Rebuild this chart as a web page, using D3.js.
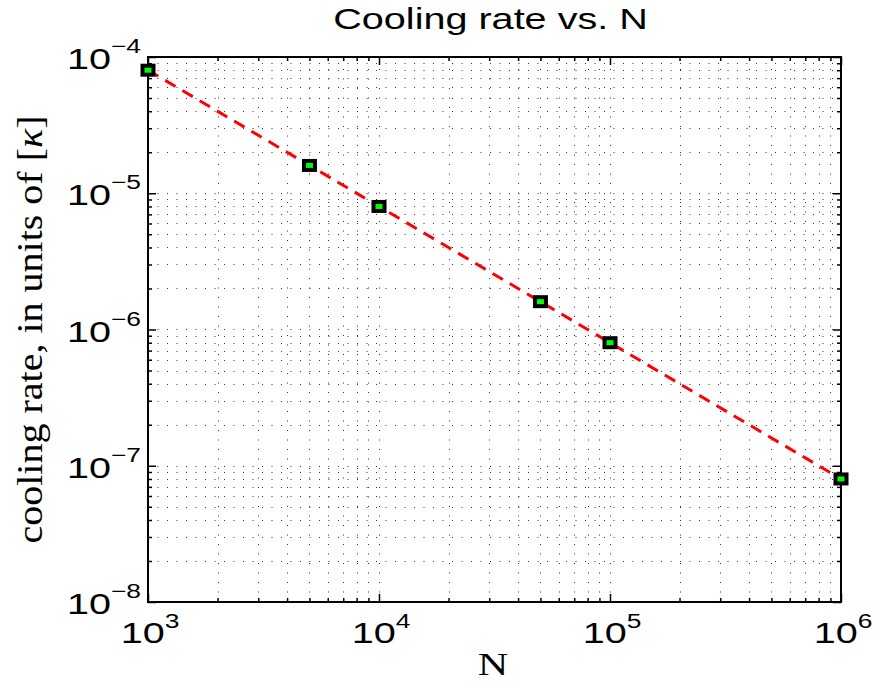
<!DOCTYPE html>
<html>
<head>
<meta charset="utf-8">
<script src="https://cdn.jsdelivr.net/npm/d3@7"></script>
<style>
  body { margin: 0; background: #fff; }
  svg { display: block; }
</style>
</head>
<body>
<svg width="876" height="684"></svg>
<script>
const nValues = [1e3, 5e3, 1e4, 5e4, 1e5, 1e6];
const coolingRates = [8e-5, 1.6e-5, 8e-6, 1.6e-6, 8e-7, 8e-8];
const fitN = [1e3, 1e6];
const fitRates = [8e-5, 8e-8];
const xTickExponents = [3, 4, 5, 6];
const yTickExponents = [-4, -5, -6, -7, -8];

const svg = d3.select("svg");
const margin = { top: 57, right: 35, bottom: 82, left: 148 };
const width = +svg.attr("width") - margin.left - margin.right;
const height = +svg.attr("height") - margin.top - margin.bottom;
const stretch = 1.32;

const g = svg.append("g")
  .attr("transform", `translate(${margin.left},${margin.top})`);

const x = d3.scaleLog().domain([1e3, 1e6]).range([0, width]);
const y = d3.scaleLog().domain([1e-8, 1e-4]).range([height, 0]);

// every 1..9 x 10^k between the domain ends
function logTicks(lo, hi) {
  const out = [];
  for (let e = lo; e < hi; e++) {
    for (let k = 1; k <= 9; k++) out.push(k * Math.pow(10, e));
  }
  out.push(Math.pow(10, hi));
  return out;
}
const xAll = logTicks(3, 6);
const yAll = logTicks(-8, -4);
const xMajor = xTickExponents.map(e => Math.pow(10, e));
const yMajor = yTickExponents.map(e => Math.pow(10, e));
const crisp = v => Math.round(v) + 0.5;

// dotted grid
g.append("g").selectAll("line")
  .data(xAll.slice(1, -1))
  .join("line")
  .attr("x1", d => crisp(x(d))).attr("x2", d => crisp(x(d)))
  .attr("y1", height).attr("y2", 0)
  .attr("stroke", "#333")
  .attr("stroke-width", 1)
  .attr("stroke-dasharray", "1,8.5");

g.append("g").selectAll("line")
  .data(yAll.slice(1, -1))
  .join("line")
  .attr("y1", d => crisp(y(d))).attr("y2", d => crisp(y(d)))
  .attr("x1", 0).attr("x2", width)
  .attr("stroke", "#333")
  .attr("stroke-width", 1)
  .attr("stroke-dasharray", "1,8.5");

// inward ticks on all four sides
function ticks(axis, vals, size, tr) {
  g.append("g")
    .attr("transform", tr)
    .call(axis.tickValues(vals).tickSize(size).tickFormat(""))
    .call(a => a.select(".domain").remove())
    .call(a => a.selectAll("line").attr("stroke", "#000").attr("stroke-width", 1.5));
}
const xMinor = xAll.filter(d => !xMajor.includes(d));
const yMinor = yAll.filter(d => !yMajor.some(m => Math.abs(m - d) / m < 1e-9));
ticks(d3.axisBottom(x), xMajor, -8, `translate(0,${height})`);
ticks(d3.axisBottom(x), xMinor, -4, `translate(0,${height})`);
ticks(d3.axisTop(x), xMajor, -8, "translate(0,0)");
ticks(d3.axisTop(x), xMinor, -4, "translate(0,0)");
ticks(d3.axisLeft(y), yMajor, -8, "translate(0,0)");
ticks(d3.axisLeft(y), yMinor, -4, "translate(0,0)");
ticks(d3.axisRight(y), yMajor, -8, `translate(${width},0)`);
ticks(d3.axisRight(y), yMinor, -4, `translate(${width},0)`);

g.append("rect")
  .attr("width", width).attr("height", height)
  .attr("fill", "none")
  .attr("stroke", "#000")
  .attr("stroke-width", 2);

// tick labels 10^k
const font = "'Liberation Sans', Arial, sans-serif";
xTickExponents.forEach(e => {
  const t = g.append("g")
    .attr("transform", `translate(${x(Math.pow(10, e)) + 2},${height + 41}) scale(${stretch},1)`)
    .append("text")
    .attr("text-anchor", "middle")
    .attr("font-family", font)
    .attr("font-size", 30)
    .attr("fill", "#000");
  t.append("tspan").text("10");
  t.append("tspan").attr("font-size", 20).attr("dy", -15).text(String(e));
});

yTickExponents.forEach(e => {
  const t = g.append("g")
    .attr("transform", `translate(-7,${y(Math.pow(10, e)) + 12}) scale(${stretch},1)`)
    .append("text")
    .attr("text-anchor", "end")
    .attr("font-family", font)
    .attr("font-size", 30)
    .attr("fill", "#000");
  t.append("tspan").text("10");
  t.append("tspan").attr("font-size", 20).attr("dy", -16).text("\u2212" + Math.abs(e));
});

// fit line
const line = d3.line()
  .x(d => x(d[0]))
  .y(d => y(d[1]));

g.append("path")
  .datum(d3.zip(fitN, fitRates))
  .attr("fill", "none")
  .attr("stroke", "#ff0000")
  .attr("stroke-width", 3)
  .attr("stroke-dasharray", "12,8")
  .attr("d", line);

// markers
g.selectAll("rect.pt")
  .data(d3.zip(nValues, coolingRates))
  .join("rect")
  .attr("class", "pt")
  .attr("x", d => x(d[0]) - 5.5)
  .attr("y", d => y(d[1]) - 4.5)
  .attr("width", 11)
  .attr("height", 9)
  .attr("fill", "#00ff00")
  .attr("stroke", "#000")
  .attr("stroke-width", 4);

// title
svg.append("g")
  .attr("transform", `translate(${margin.left + width / 2 - 4},29) scale(${stretch},1)`)
  .append("text")
  .attr("text-anchor", "middle")
  .attr("font-family", font)
  .attr("font-size", 30)
  .attr("fill", "#000")
  .text("Cooling rate vs. N");

// axis labels
const serif = "'Liberation Serif', 'DejaVu Serif', serif";
svg.append("g")
  .attr("transform", `translate(493,675) scale(${stretch},1)`)
  .append("text")
  .attr("text-anchor", "middle")
  .attr("font-family", serif)
  .attr("font-size", 32)
  .attr("fill", "#000")
  .text("N");

const yl = svg.append("g")
  .attr("transform", `translate(42,${margin.top + height / 2}) rotate(-90)`)
  .append("text")
  .attr("text-anchor", "middle")
  .attr("font-family", serif)
  .attr("font-size", 35)
  .attr("fill", "#000")
  .attr("textLength", 428)
  .attr("lengthAdjust", "spacingAndGlyphs");
yl.append("tspan").text("cooling rate, in units of [");
yl.append("tspan").attr("font-style", "italic").text("\u03ba");
yl.append("tspan").text("]");
</script>
</body>
</html>
